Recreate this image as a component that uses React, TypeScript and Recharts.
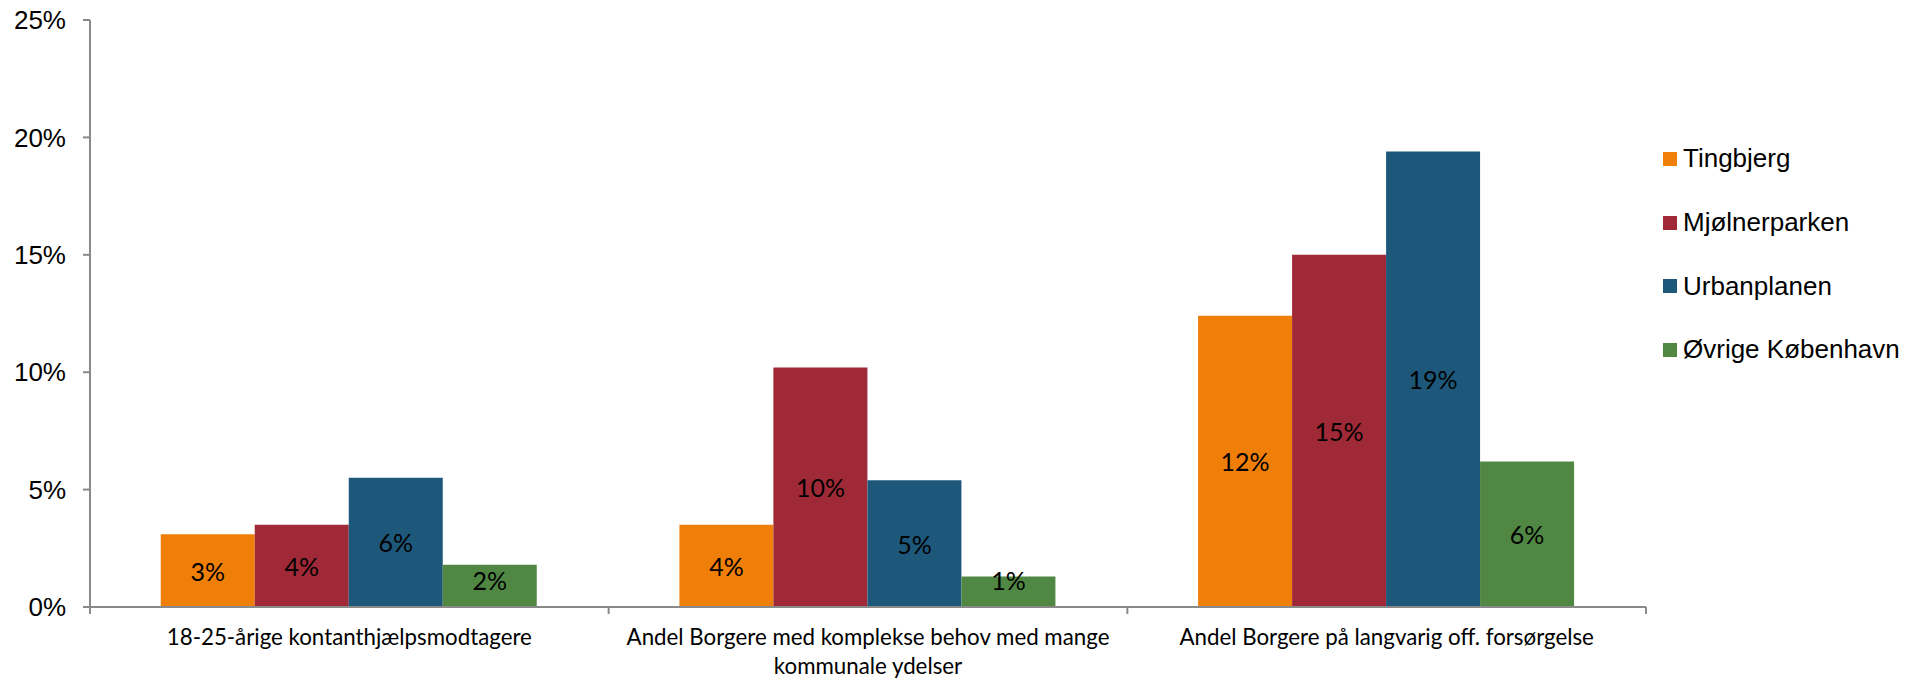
import React from 'react';
import { BarChart, Bar, XAxis, YAxis, Legend, LabelList } from 'recharts';

const categories = [
  '18-25-årige kontanthjælpsmodtagere',
  'Andel Borgere med komplekse behov med mange kommunale ydelser',
  'Andel Borgere på langvarig off. forsørgelse',
];
const tingbjerg = [3.1, 3.5, 12.4];
const mjolnerparken = [3.5, 10.2, 15.0];
const urbanplanen = [5.5, 5.4, 19.4];
const ovrigeKobenhavn = [1.8, 1.3, 6.2];

const seriesNames = ['Tingbjerg', 'Mjølnerparken', 'Urbanplanen', 'Øvrige København'];
const seriesColors = ['#F07F09', '#9F2936', '#1D587B', '#4F8743'];
const yTicks = [0, 5, 10, 15, 20, 25];

const seriesValues = [tingbjerg, mjolnerparken, urbanplanen, ovrigeKobenhavn];
const data = categories.map((category, i) => {
  const row: Record<string, any> = { category };
  seriesNames.forEach((name, s) => {
    row[name] = seriesValues[s][i];
  });
  return row;
});

const AXIS_COLOR = '#898989';
const CALIBRI_SUB = 'Lato, "Open Sans", sans-serif';
const ARIAL_SUB = '"Liberation Sans", Arial, sans-serif';
const MAX_LINE_CHARS = 46;

function wrapLabel(text: string): string[] {
  const words = text.split(' ');
  const lines: string[] = [];
  let cur = '';
  words.forEach((w) => {
    const next = cur ? `${cur} ${w}` : w;
    if (next.length > MAX_LINE_CHARS && cur) {
      lines.push(cur);
      cur = w;
    } else {
      cur = next;
    }
  });
  if (cur) lines.push(cur);
  return lines;
}

const CategoryTick = (props: any) => {
  const { x, y, payload, index, width } = props;
  const band = (width || 1556) / categories.length;
  const left = x - band / 2;
  const right = x + band / 2;
  const lines = wrapLabel(String(payload.value));
  return (
    <g>
      <line x1={left} y1={y} x2={left} y2={y + 7} stroke={AXIS_COLOR} strokeWidth={2} />
      {index === categories.length - 1 && (
        <line x1={right} y1={y} x2={right} y2={y + 7} stroke={AXIS_COLOR} strokeWidth={2} />
      )}
      <text
        x={x}
        y={y + 38}
        textAnchor="middle"
        fill="#000"
        fontFamily={CALIBRI_SUB}
        fontSize={22.3}
      >
        {lines.map((line, i) => (
          <tspan key={i} x={x} dy={i === 0 ? 0 : 29}>
            {line}
          </tspan>
        ))}
      </text>
    </g>
  );
};

const BarValueLabel = (props: any) => {
  const { x, y, width, height, value } = props;
  const cx = Number(x) + Number(width) / 2;
  const bottom = Number(y) + Number(height);
  const cy = Math.min(Number(y) + Number(height) / 2, bottom - 27);
  return (
    <text
      x={cx}
      y={cy}
      textAnchor="middle"
      dominantBaseline="central"
      fill="#000"
      fontFamily={CALIBRI_SUB}
      fontSize={25}
    >
      {`${Math.round(Number(value))}%`}
    </text>
  );
};

const LegendContent = (props: any) => {
  const payload = (props.payload || []) as any[];
  const items = seriesNames.map((n, i) => {
    const found = payload.find((p) => p.value === n || p.dataKey === n);
    return { value: n, color: (found && found.color) || seriesColors[i] };
  });
  return (
    <div>
      {items.map((entry) => (
        <div
          key={entry.value}
          style={{ display: 'flex', alignItems: 'center', height: 63.7 }}
        >
          <span
            style={{
              display: 'inline-block',
              width: 14,
              height: 14,
              background: entry.color,
              marginRight: 6,
            }}
          />
          <span
            style={{
              fontFamily: ARIAL_SUB,
              fontSize: 26,
              color: '#000',
              whiteSpace: 'nowrap',
            }}
          >
            {entry.value}
          </span>
        </div>
      ))}
    </div>
  );
};

export default function App() {
  return (
    <div style={{ position: 'absolute', left: 0, top: 0, width: 1916, height: 678, background: '#fff' }}>
      <BarChart
        width={1916}
        height={678}
        data={data}
        margin={{ top: 20, right: 270, bottom: 0, left: 0 }}
        barCategoryGap="13.64%"
        barGap={0}
      >
        <YAxis
          width={90}
          domain={[0, 25]}
          ticks={yTicks}
          interval={0}
          tickFormatter={(v: number) => `${v}%`}
          tick={{ fill: '#000', fontSize: 26, fontFamily: ARIAL_SUB }}
          tickSize={7}
          tickMargin={17}
          axisLine={{ stroke: AXIS_COLOR, strokeWidth: 2 }}
          tickLine={{ stroke: AXIS_COLOR, strokeWidth: 2 }}
        />
        <XAxis
          dataKey="category"
          height={71}
          interval={0}
          tickSize={0}
          tickMargin={0}
          tickLine={false}
          axisLine={{ stroke: AXIS_COLOR, strokeWidth: 2 }}
          tick={<CategoryTick />}
        />
        <Legend
          layout="horizontal"
          verticalAlign="middle"
          align="center"
          wrapperStyle={{ left: 1663, top: 127, width: 253, height: 260 }}
          content={<LegendContent />}
        />
        {seriesNames.map((name, i) => (
          <Bar key={name} dataKey={name} fill={seriesColors[i]} isAnimationActive={false}>
            <LabelList dataKey={name} content={<BarValueLabel />} />
          </Bar>
        ))}
      </BarChart>
    </div>
  );
}
